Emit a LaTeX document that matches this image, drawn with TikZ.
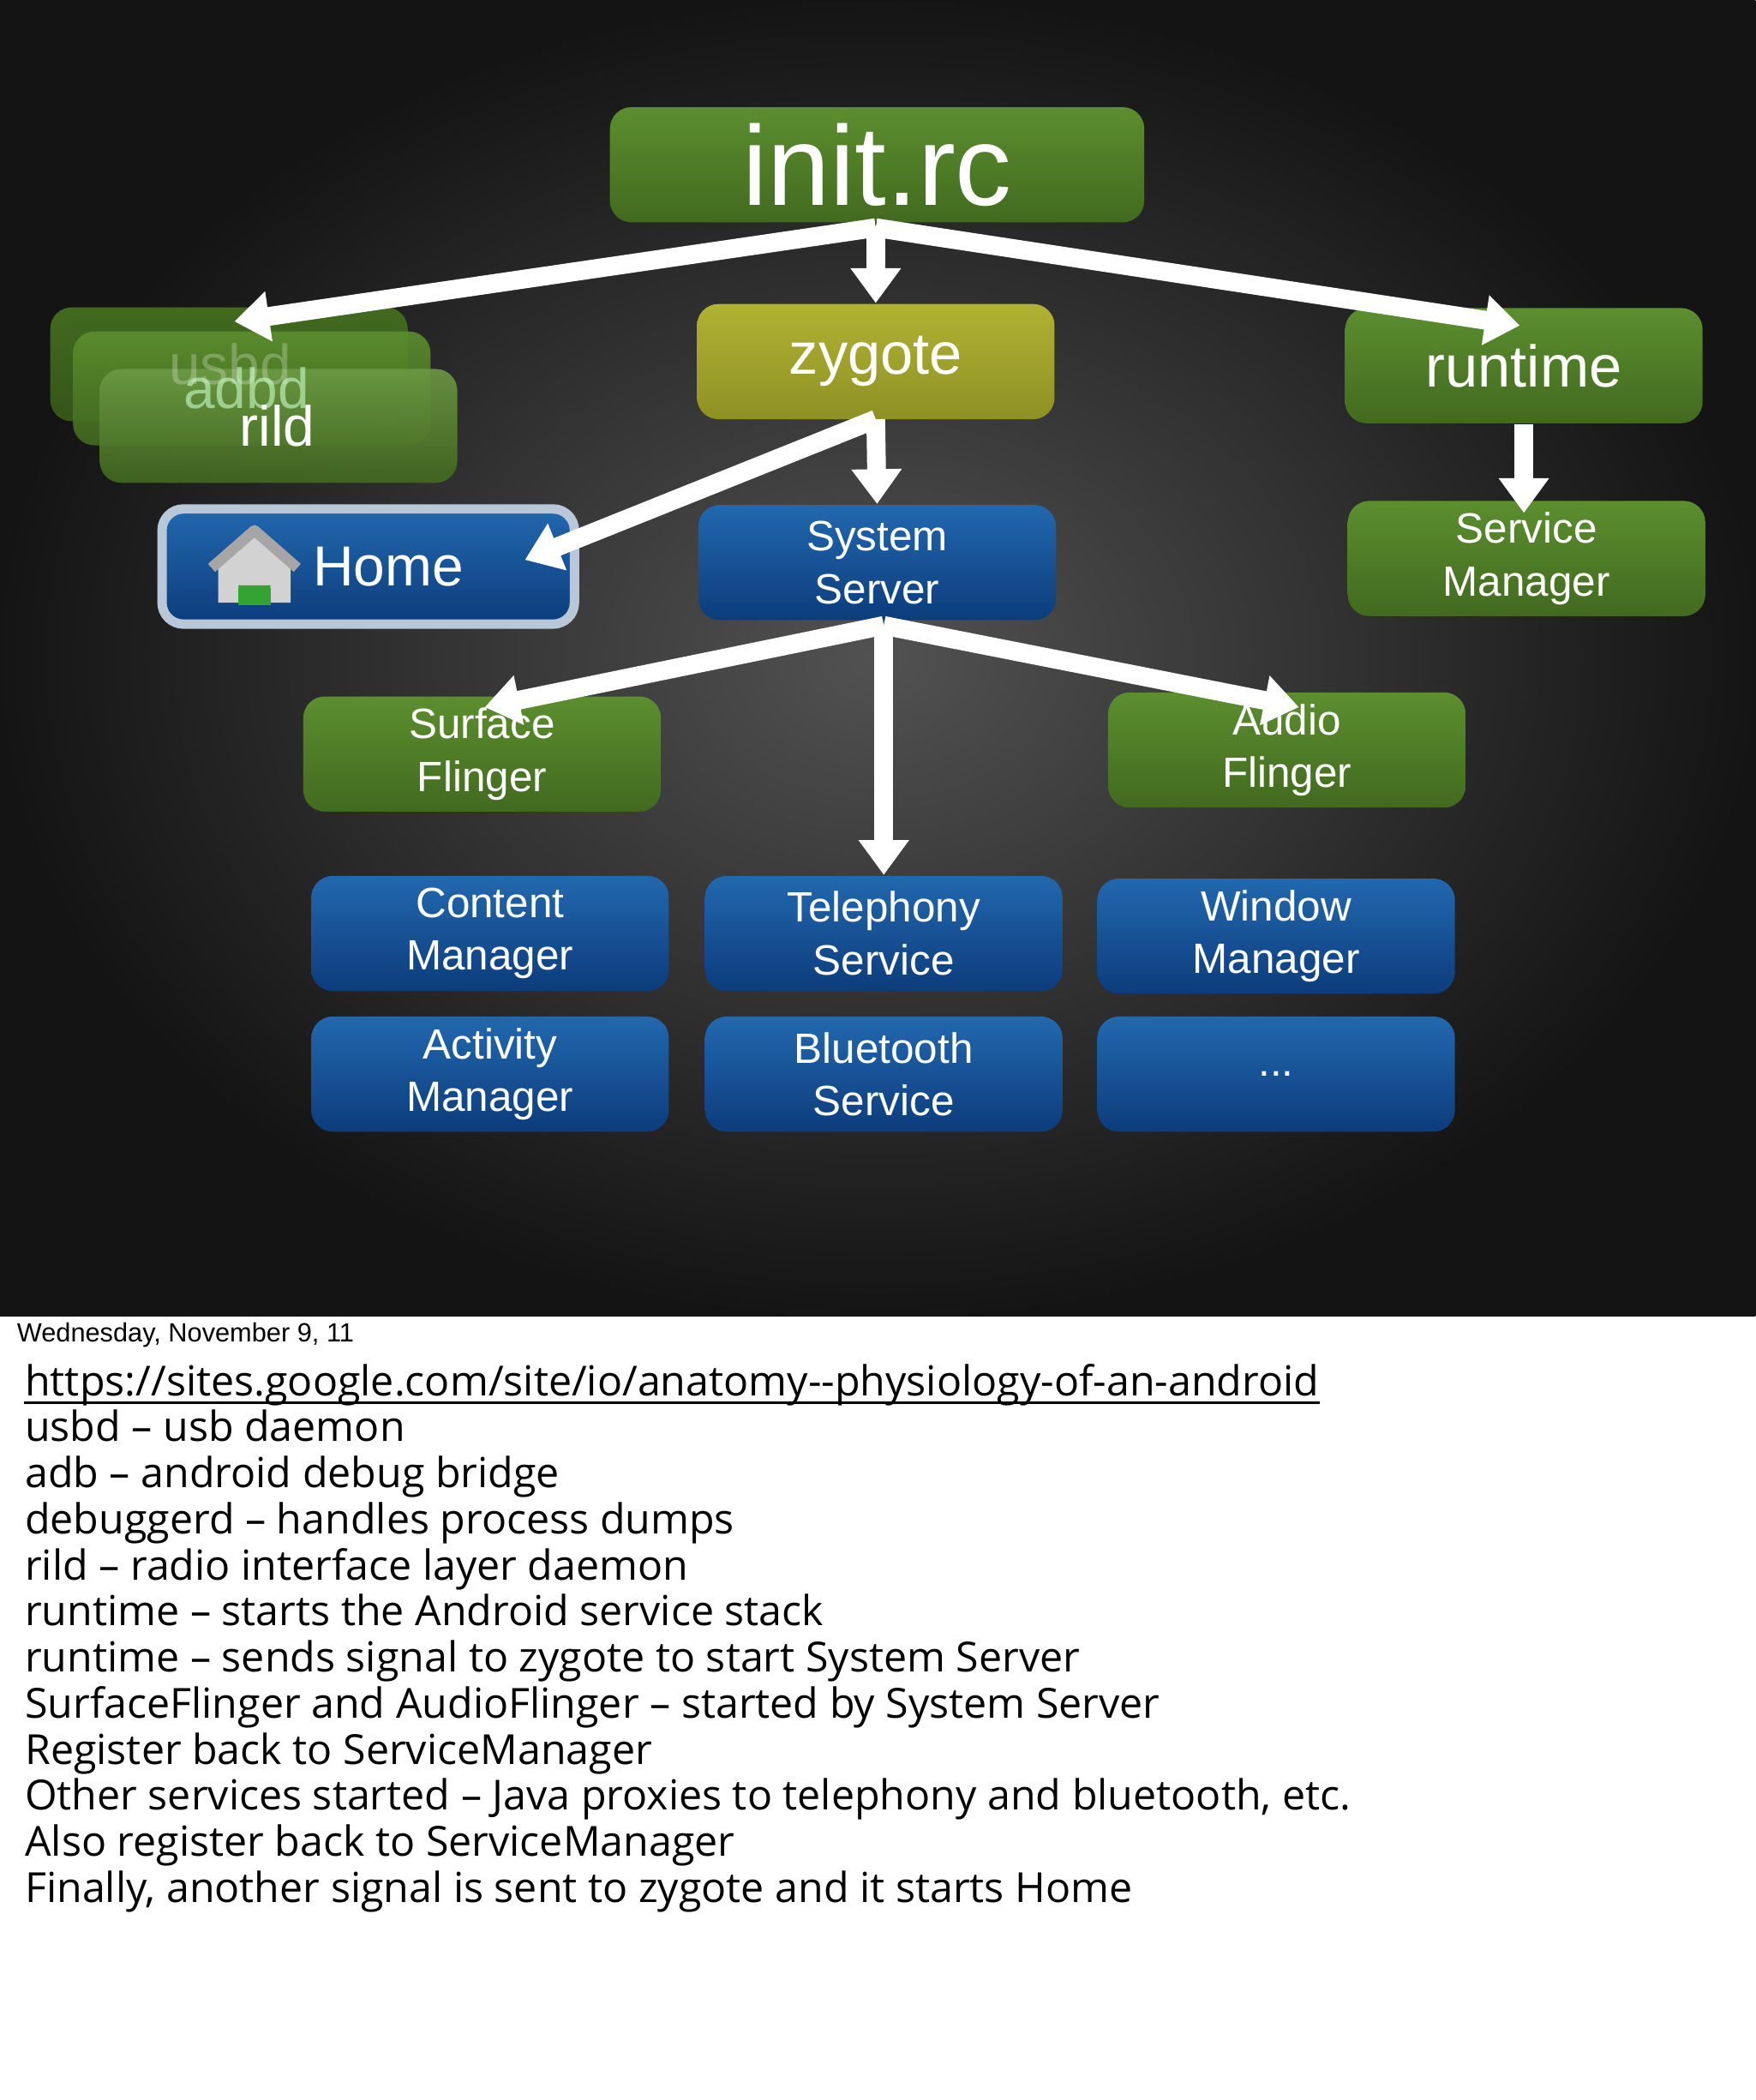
\documentclass[tikz,border=0pt]{standalone}
\usepackage{fontspec}
\setmainfont{Liberation Sans}
\newfontfamily\notefont{Open Sans}
\usetikzlibrary{arrows.meta}
\definecolor{gA}{HTML}{5C8E2F}\definecolor{gB}{HTML}{426A1F}
\definecolor{bA}{HTML}{2268AE}\definecolor{bB}{HTML}{0C3C7C}
\definecolor{yA}{HTML}{B0B233}\definecolor{yB}{HTML}{8E9124}
\definecolor{hB}{HTML}{B8C8D8}
\tikzset{
 box/.style={rounded corners=1.6mm,inner sep=0pt,align=center,text=white,font=\fontsize{9}{11.2}\selectfont},
 green/.style={box,top color=gA,bottom color=gB},
 blue/.style={box,top color=bA,bottom color=bB},
 std/.style={minimum width=26.7mm,minimum height=8.6mm},
 arr/.style={white,line width=1.4mm,-{Triangle[length=2.6mm,width=3.6mm]}},
 note/.style={anchor=base west,font=\notefont\fontsize{8.8}{10}\selectfont,inner sep=0pt}
}
\begin{document}
\begin{tikzpicture}[x=0.1mm,y=-0.1mm]
\useasboundingbox (0,0) rectangle (1311,1568);
\fill[white] (0,0) rectangle (1311,1568);
\shade[inner color=black!68,outer color=black!92] (0,0) rectangle (1311,983);
% stack
\node[green,minimum width=26.7mm,minimum height=8.5mm,top color=gB,bottom color=gB!80!black] (usbd) at (171,272) {};
\node[green,minimum width=26.7mm,minimum height=8.5mm,fill opacity=0.9] (adbd) at (188,290) {};
\node[green,minimum width=26.7mm,minimum height=8.5mm,top color=gA!90!white,bottom color=gB,opacity=0.9] (rild) at (208,318) {};
\node[text=white,opacity=0.25,font=\fontsize{12}{14}\selectfont] at (172,272) {usbd};
\node[text=white!80!green,opacity=0.6,font=\fontsize{12}{14}\selectfont] at (184,290) {adbd};
\node[text=white,font=\fontsize{12}{14}\selectfont] at (207,318) {rild};
% main
\node[green,minimum width=39.9mm,minimum height=8.6mm,font=\fontsize{24}{26}\selectfont] (init) at (655,123) {init.rc};
\node[box,top color=yA,bottom color=yB,std,font=\fontsize{12.5}{14}\selectfont] (zyg) at (654,270) {zygote};
\node[green,std,font=\fontsize{12.5}{14}\selectfont] (rt) at (1138,273) {runtime};
\node[blue,std,draw=hB,line width=0.7mm,minimum width=30.8mm,font=\fontsize{12}{14}\selectfont] (home) at (275,423) {\hspace*{3mm}Home};
\node[blue,std] (ss) at (655,420) {System\\Server};
\node[green,std] (sm) at (1140,417) {Service\\Manager};
\node[green,std] (sf) at (360,563) {Surface\\Flinger};
\node[green,std] (af) at (961,560) {Audio\\Flinger};
\node[blue,std] (cm) at (366,697) {Content\\Manager};
\node[blue,std] (ts) at (660,697) {Telephony\\Service};
\node[blue,std] (wm) at (953,699) {Window\\Manager};
\node[blue,std] (am) at (366,802) {Activity\\Manager};
\node[blue,std] (bs) at (660,802) {Bluetooth\\Service};
\node[blue,std] (dots) at (953,802) {...};
% home icon
\fill[gray!35] (163,450) -- (163,422) -- (190,398) -- (217,422) -- (217,450) -- cycle;
\draw[gray!70,line width=0.8mm,line join=round] (158,424) -- (190,396) -- (222,424);
\fill[green!55!black!80!white] (178,437) arc (180:0:12) -- cycle;
\fill[green!55!black!80!white] (178,439) rectangle (202,452);
% arrows
\coordinate (iB) at (654,170);
\draw[arr] (iB) -- (175,240);
\draw[arr] (iB) -- (zyg.north);
\draw[arr] (iB) -- (1135,243);
\coordinate (zB) at (654,313);
\draw[arr] (zB) -- (392,418);
\draw[arr] (zB) -- (ss.north);
\draw[arr] (rt.south) -- (1138,383);
\coordinate (sB) at (660,467);
\draw[arr] (sB) -- (362,528);
\draw[arr] (sB) -- (970,528);
\draw[arr] (sB) -- (ts.north);
% notes
\node[anchor=west,inner sep=0pt,font=\fontsize{5.6}{7}\selectfont] (date) at (12,997) {Wednesday, November 9, 11};
\node[note] (l1) at (18,1042) {https://sites.google.com/site/io/anatomy--physiology-of-an-android};
\draw[black,line width=0.2mm] ([yshift=-0.55mm]l1.base west) -- ([yshift=-0.55mm]l1.base east);
\foreach \t [count=\i] in {usbd – usb daemon,adb – android debug bridge,debuggerd – handles process dumps,rild – radio interface layer daemon,runtime – starts the Android service stack,runtime – sends signal to zygote to start System Server,SurfaceFlinger and AudioFlinger – started by System Server,Register back to ServiceManager,{Other services started – Java proxies to telephony and bluetooth, etc.},Also register back to ServiceManager,{Finally, another signal is sent to zygote and it starts Home}}
  \node[note] (n\i) at (18,1042+34.4*\i) {\t};
\end{tikzpicture}
\end{document}
